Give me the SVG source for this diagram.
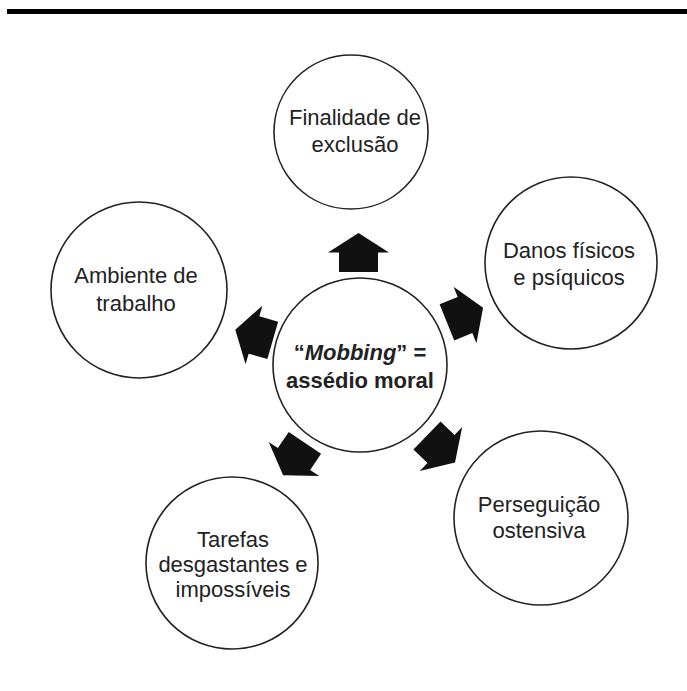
<svg xmlns="http://www.w3.org/2000/svg" width="687" height="691" viewBox="0 0 687 691">
<style>
.c{fill:#fff;stroke:#222;stroke-width:1.6}
.t{font-family:"Liberation Sans",Arial,sans-serif;font-size:22px;fill:#222;text-anchor:middle}
.b{font-weight:bold}
.a{fill:#111}
</style>
<defs>
<polygon id="arr" points="0,-19.5 30.5,0 19.5,0 19.5,19.5 -19.5,19.5 -19.5,0 -30.5,0"/>
</defs>
<rect x="7" y="9" width="680" height="5" fill="#000"/>
<g id="connectors">
<use href="#arr" class="a" transform="translate(358.5,252.5)"/>
<use href="#arr" class="a" transform="translate(254,335) rotate(-74)"/>
<use href="#arr" class="a" transform="translate(465,315) rotate(68)"/>
<use href="#arr" class="a" transform="translate(294,459) rotate(214)"/>
<use href="#arr" class="a" transform="translate(441,449) rotate(134)"/>
</g>
<g id="center">
<circle class="c" cx="360" cy="365" r="87"/>
<text class="t b" x="360" y="360">“<tspan font-style="italic">Mobbing</tspan>” =</text>
<text class="t b" x="360" y="388">assédio moral</text>
</g>
<g id="top">
<circle class="c" cx="351" cy="132" r="77"/>
<text class="t" x="355" y="125">Finalidade de</text>
<text class="t" x="355" y="152">exclusão</text>
</g>
<g id="left">
<circle class="c" cx="139" cy="290" r="88"/>
<text class="t" x="136" y="283">Ambiente de</text>
<text class="t" x="136" y="311">trabalho</text>
</g>
<g id="right">
<circle class="c" cx="571" cy="263" r="86"/>
<text class="t" x="569" y="258">Danos físicos</text>
<text class="t" x="569" y="285">e psíquicos</text>
</g>
<g id="bottomright">
<circle class="c" cx="541" cy="518" r="87"/>
<text class="t" x="539" y="512">Perseguição</text>
<text class="t" x="539" y="538">ostensiva</text>
</g>
<g id="bottomleft">
<circle class="c" cx="232" cy="563" r="86"/>
<text class="t" x="233" y="547">Tarefas</text>
<text class="t" x="233" y="572">desgastantes e</text>
<text class="t" x="233" y="597">impossíveis</text>
</g>
</svg>
